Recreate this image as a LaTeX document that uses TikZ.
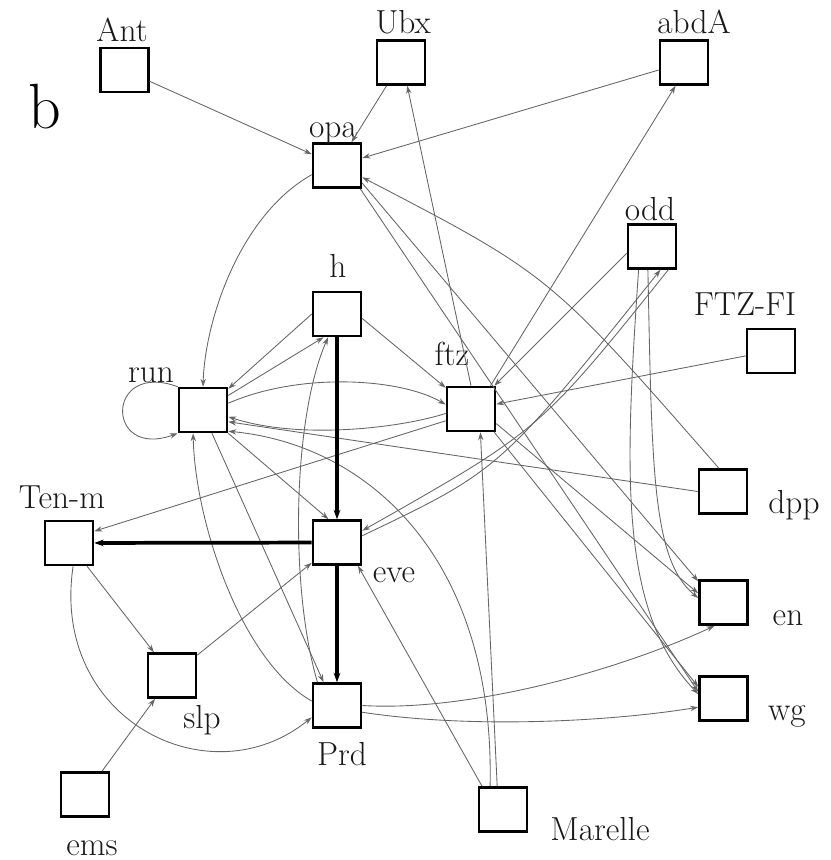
\documentclass[tikz,border=0pt]{standalone}
\usetikzlibrary{arrows.meta}
\begin{document}
\begin{tikzpicture}[x=0.75pt,y=-0.75pt,
  gbox/.style={draw=black, line width=1.9pt, minimum width=36pt, minimum height=33pt, inner sep=0pt, fill=white},
  lab/.style={font=\fontsize{25}{29}\selectfont, anchor=base, inner sep=0pt, text=black!90},
  edgethin/.style={draw=black!60, line width=0.65pt, -{Stealth[length=6pt,width=4pt]}},
  edgethick/.style={draw=black, line width=2.8pt, -{Stealth[length=7pt,width=5pt]}}]
\useasboundingbox (0,0) rectangle (831,860);

% boxes
\node[gbox] (Ant) at (124.5,70) {};
\node[gbox] (Ubx) at (401,62.5) {};
\node[gbox] (abdA) at (684,62.5) {};
\node[gbox] (opa) at (337,165.5) {};
\node[gbox] (odd) at (652,246.5) {};
\node[gbox] (h) at (337,314) {};
\node[gbox] (FTZ) at (771,351) {};
\node[gbox] (run) at (203,410) {};
\node[gbox] (ftz) at (471,409) {};
\node[gbox] (dpp) at (723,491.5) {};
\node[gbox] (Tenm) at (69,543) {};
\node[gbox] (eve) at (337,542.5) {};
\node[gbox] (en) at (723.5,602.5) {};
\node[gbox] (wg) at (723.5,698.5) {};
\node[gbox] (slp) at (172,675.5) {};
\node[gbox] (Prd) at (337,705.5) {};
\node[gbox] (ems) at (85,794.5) {};
\node[gbox] (Marelle) at (503,809.5) {};

% labels
\node[font=\fontsize{48}{50}\selectfont, anchor=base, inner sep=0pt] (lb) at (45,128) {b};
\node[lab] (lAnt) at (122,41) {Ant};
\node[lab] (lUbx) at (403,33) {Ubx};
\node[lab] (labdA) at (694,33) {abdA};
\node[lab] (lopa) at (333,137) {opa};
\node[lab] (lh) at (338,277) {h};
\node[lab] (lodd) at (650,220) {odd};
\node[lab] (lFTZ) at (745,315) {FTZ-FI};
\node[lab] (lrun) at (151,382) {run};
\node[lab] (lftz) at (452,365) {ftz};
\node[lab] (ldpp) at (794,513) {dpp};
\node[lab] (lTenm) at (62,508) {Ten-m};
\node[lab] (leve) at (394,582) {eve};
\node[lab] (len) at (788,625) {en};
\node[lab] (lwg) at (787,720) {wg};
\node[lab] (lslp) at (202,728) {slp};
\node[lab] (lPrd) at (342,765) {Prd};
\node[lab] (lems) at (92,855) {ems};
\node[lab] (lMarelle) at (600,840) {Marelle};

% thin connectors
\draw[edgethin] (Ant) -- (opa);
\draw[edgethin] (Ubx) -- (opa);
\draw[edgethin] (abdA) -- (opa);
\draw[edgethin] (ftz.north) -- (Ubx.-75);
\draw[edgethin] (ftz.50) -- (abdA.-110);
\draw[edgethin] (opa.200) .. controls (240,215) and (205,320) .. (run.north);
\draw[edgethin] (opa.-35) -- (en.140);
\draw[edgethin] (opa.-45) -- (wg.165);
\draw[edgethin] (dpp.100) .. controls (550,275) .. (opa.-25);
\draw[edgethin] (odd.195) -- (ftz.45);
\draw[edgethin] (eve.15) .. controls (500,470) .. (odd.-70);
\draw[edgethin] (odd.-55) .. controls (540,430) .. (eve.25);
\draw[edgethin] (odd.-100) .. controls (652,470) and (652,560) .. (en.170);
\draw[edgethin] (odd.-120) .. controls (625,470) and (618,610) .. (wg.170);
\draw[edgethin] (FTZ) -- (ftz);
\draw[edgethin] (h.west) -- (run.40);
\draw[edgethin] (run.30) -- (h.-120);
\draw[edgethin] (Prd.130) .. controls (290,590) and (292,420) .. (h.-111);
\draw[edgethin] (h.-10) -- (ftz.140);
\draw[edgethin] (run.15) .. controls (300,372) and (400,378) .. (ftz.170);
\draw[edgethin] (ftz.190) .. controls (400,428) and (300,440) .. (run.-15);
\draw[edgethin] (dpp.west) -- (run.-25);
\draw[edgethin] (ftz.205) -- (Tenm.25);
\draw[edgethin] (Tenm) -- (slp);
\draw[edgethin] (Tenm.-80) .. controls (50,720) and (210,800) .. (Prd.-155);
\draw[edgethin] (ems) -- (slp);
\draw[edgethin] (slp) -- (eve);
\draw[edgethin] (Prd.0) .. controls (470,712) and (620,670) .. (en.-111);
\draw[edgethin] (Prd.-15) .. controls (480,730) and (620,720) .. (wg.-161);
\draw[edgethin] (Marelle.104) -- (ftz.-68);
\draw[edgethin] (Marelle.119) .. controls (495,560) and (370,445) .. (run.-40);
\draw[edgethin] (Marelle.132) -- (eve.-48);
\draw[edgethin] (run.-69) -- (Prd.120);
\draw[edgethin] (Prd.170) .. controls (240,660) and (195,520) .. (run.-113);
\draw[edgethin] (run.south east) -- (eve.110);
\draw[edgethin] (ftz.-30) -- (en.160);
\draw[edgethin] (ftz.-45) -- (wg.155);
\draw[edgethin] (run.north west) .. controls (105,360) and (105,460) .. (run.south west);

% thick connectors
\draw[edgethick] (h) -- (eve);
\draw[edgethick] (eve) -- (Tenm);
\draw[edgethick] (eve) -- (Prd);
\end{tikzpicture}
\end{document}
